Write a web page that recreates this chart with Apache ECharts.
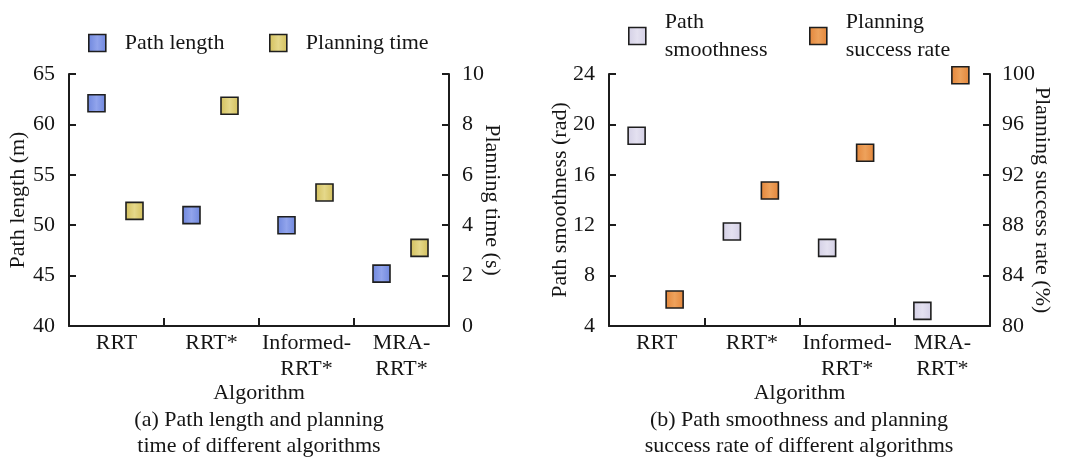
<!DOCTYPE html>
<html>
<head>
<meta charset="utf-8">
<script src="https://cdn.jsdelivr.net/npm/echarts@6/dist/echarts.min.js"></script>
<style>
  html, body { margin: 0; padding: 0; background: #fff; }
  #chart { width: 1081px; height: 459px; }
</style>
</head>
<body>
<div id="chart"></div>
<script>
// Algorithms compared in both panels
const categories = ['RRT', 'RRT*', 'Informed-RRT*', 'MRA-RRT*'];

// Panel (a)
const pathLength = [62.1, 51.0, 50.0, 45.2];      // m
const planningTime = [4.57, 8.74, 5.3, 3.1];      // s
const pathLengthTicks = [40, 45, 50, 55, 60, 65];
const planningTimeTicks = [0, 2, 4, 6, 8, 10];

// Panel (b)
const pathSmoothness = [19.1, 11.5, 10.2, 5.2];   // rad
const successRate = [82.1, 90.75, 93.75, 99.9];   // %
const smoothnessTicks = [4, 8, 12, 16, 20, 24];
const successTicks = [80, 84, 88, 92, 96, 100];

const FONT = '"Liberation Serif", "DejaVu Serif", serif';
const INK = '#151515';
const AXIS = '#1c1c1c';

// Legend labels that wrap onto two lines
const legendLabels = {
  'Path smoothness': 'Path\nsmoothness',
  'Planning success rate': 'Planning\nsuccess rate'
};

function fill(edge, mid) {
  return {
    type: 'linear', x: 0, y: 0, x2: 1, y2: 0,
    colorStops: [
      { offset: 0, color: edge },
      { offset: 0.5, color: mid },
      { offset: 1, color: edge }
    ]
  };
}

function xAxisFor(gridIndex) {
  return {
    type: 'category',
    gridIndex: gridIndex,
    data: categories,
    boundaryGap: true,
    axisLine: { show: true, onZero: false, lineStyle: { color: AXIS, width: 2 } },
    axisTick: { show: true, inside: true, interval: 0, length: 8, lineStyle: { color: AXIS, width: 2 } },
    axisLabel: {
      interval: 0, margin: 4, color: INK, fontFamily: FONT, fontSize: 22, lineHeight: 26,
      formatter: v => v.replace('-', '-\n')
    },
    splitLine: { show: false },
    name: 'Algorithm',
    nameLocation: 'middle',
    nameGap: 56,
    nameMoveOverlap: false,
    nameTextStyle: { color: INK, fontFamily: FONT, fontSize: 22 }
  };
}

function yAxisFor(gridIndex, position, ticks, name, nameGap, labelMargin) {
  return {
    type: 'value',
    gridIndex: gridIndex,
    position: position,
    min: ticks[0],
    max: ticks[ticks.length - 1],
    interval: ticks[1] - ticks[0],
    axisLine: { show: true, lineStyle: { color: AXIS, width: 2 } },
    axisTick: { show: true, inside: true, length: 7, lineStyle: { color: AXIS, width: 2 } },
    axisLabel: { margin: labelMargin, color: INK, fontFamily: FONT, fontSize: 22 },
    splitLine: { show: false },
    name: name,
    nameLocation: 'middle',
    nameRotate: position === 'left' ? 90 : -90,
    nameGap: nameGap,
    nameMoveOverlap: false,
    nameTextStyle: { color: INK, fontFamily: FONT, fontSize: 22 }
  };
}

function scatter(name, data, xi, yi, offset, color) {
  return {
    name: name,
    type: 'scatter',
    xAxisIndex: xi,
    yAxisIndex: yi,
    data: data,
    symbol: 'rect',
    symbolSize: 17,
    symbolOffset: [offset, 0],
    itemStyle: { color: color, borderColor: '#1e1e1e', borderWidth: 1.6, opacity: 1 },
    emphasis: { disabled: true },
    z: 3
  };
}

function legendFor(name, left, top) {
  return {
    data: [name],
    left: left,
    top: top,
    padding: 0,
    icon: 'rect',
    itemWidth: 17,
    itemHeight: 17,
    itemStyle: { borderColor: '#1e1e1e', borderWidth: 1.6 },
    selectedMode: false,
    formatter: n => legendLabels[n] || n,
    textStyle: {
      color: INK, fontFamily: FONT, fontSize: 22, lineHeight: 28,
      padding: [0, 0, 0, 14]
    }
  };
}

const caption = (x, text) => ({
  type: 'text',
  x: x,
  y: 407,
  style: {
    text: text,
    textAlign: 'center',
    textVerticalAlign: 'top',
    fill: INK,
    font: '22px ' + FONT,
    lineHeight: 26
  }
});

const chart = echarts.init(document.getElementById('chart'), null, { renderer: 'canvas' });

chart.setOption({
  animation: false,
  backgroundColor: '#ffffff',
  grid: [
    { left: 69, top: 74, width: 380, height: 252 },
    { left: 609, top: 74, width: 381, height: 252 }
  ],
  legend: [
    legendFor('Path length', 88, 29),
    legendFor('Planning time', 269, 29),
    legendFor('Path smoothness', 628, 8),
    legendFor('Planning success rate', 809, 8)
  ],
  xAxis: [xAxisFor(0), xAxisFor(1)],
  yAxis: [
    yAxisFor(0, 'left', pathLengthTicks, 'Path length (m)', 40, 14),
    yAxisFor(0, 'right', planningTimeTicks, 'Planning time (s)', 32, 13),
    yAxisFor(1, 'left', smoothnessTicks, 'Path smoothness (rad)', 38, 14),
    yAxisFor(1, 'right', successTicks, 'Planning success rate (%)', 41, 12)
  ],
  series: [
    scatter('Path length', pathLength, 0, 0, -20, fill('#6e86dd', '#91a4ec')),
    scatter('Planning time', planningTime, 0, 1, 18, fill('#d2bf5c', '#e5d88a')),
    scatter('Path smoothness', pathSmoothness, 1, 2, -20, fill('#d3cfe5', '#e4e1f0')),
    scatter('Planning success rate', successRate, 1, 3, 18, fill('#e2853a', '#eea25c'))
  ],
  graphic: [
    caption(259, '(a) Path length and planning\ntime of different algorithms'),
    caption(799, '(b) Path smoothness and planning\nsuccess rate of different algorithms')
  ]
});
</script>
</body>
</html>
